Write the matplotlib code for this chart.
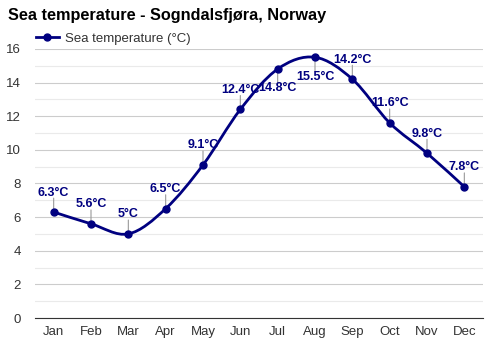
import numpy as np
import matplotlib
matplotlib.use("Agg")
import matplotlib.pyplot as plt
from matplotlib.path import Path
from matplotlib.patches import PathPatch
from matplotlib.ticker import MultipleLocator

months = ["Jan", "Feb", "Mar", "Apr", "May", "Jun",
          "Jul", "Aug", "Sep", "Oct", "Nov", "Dec"]
sea_temp = [6.3, 5.6, 5.0, 6.5, 9.1, 12.4, 14.8, 15.5, 14.2, 11.6, 9.8, 7.8]
labels = ["6.3°C", "5.6°C", "5°C", "6.5°C", "9.1°C", "12.4°C",
          "14.8°C", "15.5°C", "14.2°C", "11.6°C", "9.8°C", "7.8°C"]
below = ["Jul", "Aug"]

NAVY = "#000080"
plt.rcParams["font.family"] = ["Liberation Sans", "DejaVu Sans"]

fig = plt.figure(figsize=(5, 3.5), dpi=100)
ax = fig.add_axes([0.07, 0.0914, 0.896, 0.769])

x = np.arange(len(months))
y = np.array(sea_temp)

# smooth line: catmull-rom as cubic bezier segments
verts = [(x[0], y[0])]
codes = [Path.MOVETO]
n = len(x)
for i in range(n - 1):
    p0 = np.array([x[max(i - 1, 0)], y[max(i - 1, 0)]])
    p1 = np.array([x[i], y[i]])
    p2 = np.array([x[i + 1], y[i + 1]])
    p3 = np.array([x[min(i + 2, n - 1)], y[min(i + 2, n - 1)]])
    c1 = p1 + (p2 - p0) / 6.0
    c2 = p2 - (p3 - p1) / 6.0
    verts += [tuple(c1), tuple(c2), tuple(p2)]
    codes += [Path.CURVE4] * 3
ax.add_patch(PathPatch(Path(verts, codes), facecolor="none", edgecolor=NAVY,
                       lw=2, zorder=3))
ax.plot(x, y, "o", color=NAVY, ms=5, zorder=4)
ax.plot([], [], "-o", color=NAVY, lw=2, ms=5, label="Sea temperature (°C)")

for xi, yi, lab, m in zip(x, y, labels, months):
    sign = -1 if m in below else 1
    ax.annotate("", xy=(xi, yi), xytext=(0, sign * 10), textcoords="offset points",
                arrowprops=dict(arrowstyle="-", color="#999999", lw=0.8,
                                shrinkA=0, shrinkB=0), zorder=2)
    ax.annotate(lab, xy=(xi, yi), xytext=(0, sign * 14), textcoords="offset points",
                ha="center", va="center", color=NAVY, fontsize=9,
                fontweight="bold", zorder=5)

ax.set_xlim(-0.5, n - 0.5)
ax.set_ylim(0, 16)
ax.set_xticks(x)
ax.set_xticklabels(months)
ax.yaxis.set_major_locator(MultipleLocator(2))
ax.yaxis.set_minor_locator(MultipleLocator(1))
ax.grid(axis="y", which="major", color="#cccccc", lw=0.8)
ax.grid(axis="y", which="minor", color="#eaeaea", lw=0.8)
ax.set_axisbelow(True)
for s in ["top", "right", "left"]:
    ax.spines[s].set_visible(False)
ax.spines["bottom"].set_color("#333333")
ax.tick_params(axis="both", which="both", length=0, labelsize=9.5,
               labelcolor="#333333")
ax.tick_params(axis="y", pad=10)
ax.tick_params(axis="x", pad=6)

fig.text(0.016, 0.955, "Sea temperature - Sogndalsfjøra, Norway",
         fontsize=11.7, fontweight="bold", va="center", ha="left")
leg = ax.legend(loc="lower left", bbox_to_anchor=(-0.015, 0.985), frameon=False,
                fontsize=9.5, handlelength=1.7, handletextpad=0.5,
                borderaxespad=0.2)
for t in leg.get_texts():
    t.set_color("#333333")

fig.savefig("out.png", dpi=100)
